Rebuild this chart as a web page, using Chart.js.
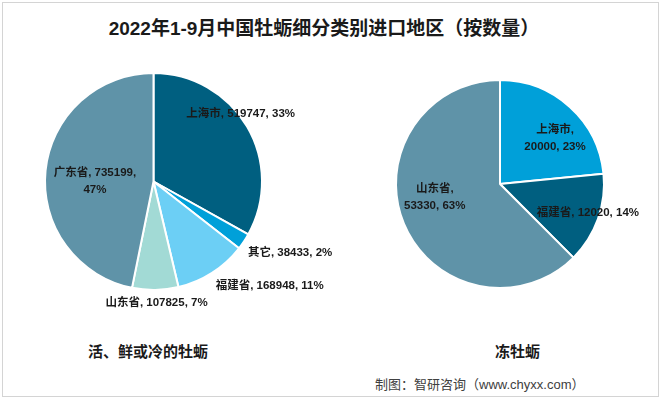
<!DOCTYPE html>
<html>
<head>
<meta charset="utf-8">
<script src="https://cdn.jsdelivr.net/npm/chart.js@4.4.1/dist/chart.umd.min.js"></script>
<style>
  body { margin: 0; width: 662px; height: 400px; background: #fff; position: relative; overflow: hidden;
         font-family: "Liberation Sans", "Noto Sans CJK SC", sans-serif; color: #1a1a1a; }
  .frame { position: absolute; left: 2px; top: 2px; width: 655px; height: 393px; border: 1px solid #d4d4d4; }
  .title { position: absolute; left: 0; top: 13px; width: 648px; text-align: center; font-size: 19px; font-weight: bold; }
  .sub { position: absolute; top: 340px; font-size: 15px; font-weight: bold; }
  .src { position: absolute; left: 375px; top: 374px; font-size: 13px; color: #404040; }
  canvas { position: absolute; }
</style>
</head>
<body>
<div class="frame"></div>
<div class="title">2022年1-9月中国牡蛎细分类别进口地区（按数量）</div>
<canvas id="freshChart" width="340" height="280" style="left:0;top:50px"></canvas>
<canvas id="frozenChart" width="322" height="280" style="left:340px;top:50px"></canvas>
<div class="sub" style="left:88px">活、鲜或冷的牡蛎</div>
<div class="sub" style="left:495px">冻牡蛎</div>
<div class="src">制图：智研咨询（www.chyxx.com）</div>
<script>
// 活、鲜或冷的牡蛎
const freshRegions = ['上海市', '其它', '福建省', '山东省', '广东省'];
const freshValues = [519747, 38433, 168948, 107825, 735199];
const freshPercents = [33, 2, 11, 7, 47];
const freshColors = ['#005f80', '#00a0d9', '#6ccff5', '#a2dad5', '#5f93a8'];

// 冻牡蛎
const frozenRegions = ['上海市', '福建省', '山东省'];
const frozenValues = [20000, 12020, 53330];
const frozenPercents = [23, 14, 63];
const frozenColors = ['#00a0d9', '#005f80', '#5f93a8'];

// draws "name, value, pct" near each slice; place = [angle shift (deg), radius factor, line break]
const sliceLabels = {
  id: 'sliceLabels',
  afterDatasetsDraw(chart, args, opts) {
    const ctx = chart.ctx;
    const meta = chart.getDatasetMeta(0);
    const values = chart.data.datasets[0].data;
    ctx.save();
    ctx.font = 'bold 11.5px "Liberation Sans", "Noto Sans CJK SC"';
    ctx.fillStyle = '#1a1a1a';
    ctx.textAlign = 'center';
    ctx.textBaseline = 'middle';
    meta.data.forEach((arc, i) => {
      const p = arc.getProps(['x', 'y', 'startAngle', 'endAngle', 'outerRadius'], true);
      const [shift, k, brk] = opts.place[i];
      const a = (p.startAngle + p.endAngle) / 2 + shift * Math.PI / 180;
      const x = p.x + Math.cos(a) * p.outerRadius * k;
      const y = p.y + Math.sin(a) * p.outerRadius * k;
      const name = chart.data.labels[i];
      const pct = opts.percents[i] + '%';
      let lines;
      if (brk === 1) lines = [name + ',', values[i] + ', ' + pct];
      else if (brk === 2) lines = [name + ', ' + values[i] + ',', pct];
      else lines = [name + ', ' + values[i] + ', ' + pct];
      const lh = 17;
      lines.forEach((t, j) => {
        ctx.fillText(t, x, y + (j - (lines.length - 1) / 2) * lh);
      });
    });
    ctx.restore();
  }
};

function makePie(id, labels, values, colors, percents, padding, place) {
  return new Chart(document.getElementById(id), {
    type: 'pie',
    data: {
      labels,
      datasets: [{ data: values, backgroundColor: colors, borderColor: '#ffffff', borderWidth: 2 }]
    },
    options: {
      responsive: false,
      animation: false,
      layout: { padding },
      plugins: {
        legend: { display: false },
        tooltip: { enabled: false },
        sliceLabels: { place, percents }
      }
    },
    plugins: [sliceLabels]
  });
}

makePie('freshChart', freshRegions, freshValues, freshColors, freshPercents,
  { left: 44, top: 22, right: 77, bottom: 39 },
  [[-7.6, 1.02, 0], [-6, 1.42, 0], [-15.4, 1.44, 0], [-0.5, 1.12, 0], [-5.2, 0.54, 2]]);

makePie('frozenChart', frozenRegions, frozenValues, frozenColors, frozenPercents,
  { left: 55, top: 29, right: 57, bottom: 41 },
  [[7.9, 0.69, 1], [-1.4, 0.89, 0], [11.2, 0.64, 1]]);
</script>
</body>
</html>
